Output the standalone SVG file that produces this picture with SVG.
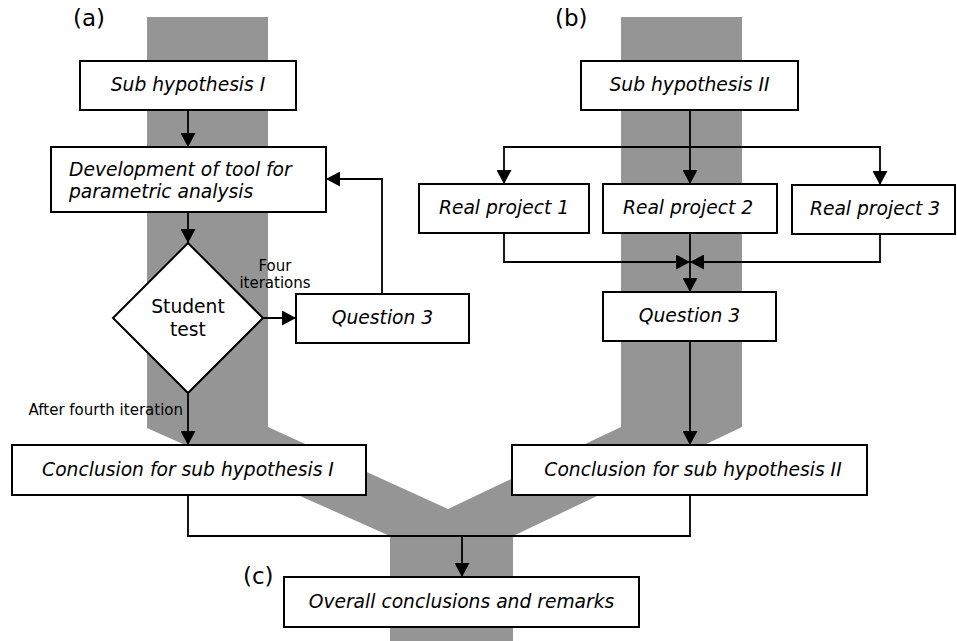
<svg xmlns="http://www.w3.org/2000/svg" width="957" height="641" viewBox="0 0 957 641">
<style>
  .box { fill: #ffffff; stroke: #000000; stroke-width: 2; }
  .t { font-family: "DejaVu Sans", Verdana, sans-serif; font-size: 18.7px; font-style: italic; fill: #000; text-anchor: middle; }
  .tl { font-family: "DejaVu Sans", Verdana, sans-serif; font-size: 18.7px; font-style: italic; fill: #000; text-anchor: start; }
  .n { font-family: "DejaVu Sans", Verdana, sans-serif; font-size: 18.7px; fill: #000; text-anchor: middle; }
  .s { font-family: "DejaVu Sans", Verdana, sans-serif; font-size: 15px; fill: #000; }
  .lab { font-family: "DejaVu Sans", Verdana, sans-serif; font-size: 23px; fill: #000; }
  .c { fill: none; stroke: #000000; stroke-width: 1.8; }
</style>
<defs>
  <marker id="ah" markerUnits="userSpaceOnUse" markerWidth="15" markerHeight="15" refX="14" refY="7.5" orient="auto">
    <path d="M0,0 L14,7.5 L0,15 z" fill="#000"/>
  </marker>
</defs>
<rect width="957" height="641" fill="#ffffff"/>
<g id="band">
  <polygon points="147,17 268,17 268,427 448,509 621,427 621,17 742,17 742,427 513,536 513,641 390,641 390,536 147,428" fill="#959595"/>
</g>
<g id="labels">
  <text class="lab" x="73" y="26">(a)</text>
  <text class="lab" x="555" y="26">(b)</text>
  <text class="lab" x="243" y="584">(c)</text>
</g>
<g id="connectors">
  <path class="c" d="M188,110 V147" marker-end="url(#ah)"/>
  <path class="c" d="M188,212 V243" marker-end="url(#ah)"/>
  <path class="c" d="M263,318 H296" marker-end="url(#ah)"/>
  <path class="c" d="M382,294 V179 H326" marker-end="url(#ah)"/>
  <path class="c" d="M188,393 V445" marker-end="url(#ah)"/>
  <path class="c" d="M690,110 V184" marker-end="url(#ah)"/>
  <path class="c" d="M690,147 H504 V184" marker-end="url(#ah)"/>
  <path class="c" d="M690,147 H880 V185" marker-end="url(#ah)"/>
  <path class="c" d="M504,233 V262 H690" marker-end="url(#ah)"/>
  <path class="c" d="M880,234 V262 H690" marker-end="url(#ah)"/>
  <path class="c" d="M690,233 V292" marker-end="url(#ah)"/>
  <path class="c" d="M690,341 V445" marker-end="url(#ah)"/>
  <path class="c" d="M188,495 V536 H690 V495"/>
  <path class="c" d="M462,536 V577" marker-end="url(#ah)"/>
  <text class="s" x="275" y="271" text-anchor="middle">Four</text>
  <text class="s" x="275" y="288" text-anchor="middle">iterations</text>
  <text class="s" x="183" y="415" text-anchor="end">After fourth iteration</text>
</g>
<g id="sub1">
  <rect class="box" x="80" y="61" width="216" height="49"/>
  <text class="t" x="188" y="91">Sub hypothesis I</text>
</g>
<g id="dev">
  <rect class="box" x="51" y="147" width="275" height="65"/>
  <text class="tl" x="69" y="176">Development of tool for</text>
  <text class="tl" x="69" y="198">parametric analysis</text>
</g>
<g id="student">
  <polygon class="box" points="188,243 263,318 188,393 113,318"/>
  <text class="n" x="188" y="313">Student</text>
  <text class="n" x="188" y="336">test</text>
</g>
<g id="q3a">
  <rect class="box" x="296" y="294" width="173" height="49"/>
  <text class="t" x="382.5" y="324">Question 3</text>
</g>
<g id="concl1">
  <rect class="box" x="12" y="445" width="354" height="50"/>
  <text class="t" x="188" y="476">Conclusion for sub hypothesis I</text>
</g>
<g id="sub2">
  <rect class="box" x="581" y="61" width="217" height="49"/>
  <text class="t" x="689.5" y="91">Sub hypothesis II</text>
</g>
<g id="rp1">
  <rect class="box" x="419" y="184" width="170" height="49"/>
  <text class="t" x="504" y="214">Real project 1</text>
</g>
<g id="rp2">
  <rect class="box" x="603" y="184" width="174" height="49"/>
  <text class="t" x="688" y="214">Real project 2</text>
</g>
<g id="rp3">
  <rect class="box" x="792" y="185" width="163" height="49"/>
  <text class="t" x="875" y="215">Real project 3</text>
</g>
<g id="q3b">
  <rect class="box" x="603" y="292" width="173" height="49"/>
  <text class="t" x="689.5" y="322">Question 3</text>
</g>
<g id="concl2">
  <rect class="box" x="512" y="445" width="355" height="50"/>
  <text class="t" x="693" y="476">Conclusion for sub hypothesis II</text>
</g>
<g id="overall">
  <rect class="box" x="284" y="577" width="355" height="50"/>
  <text class="t" x="461.5" y="608">Overall conclusions and remarks</text>
</g>
</svg>
